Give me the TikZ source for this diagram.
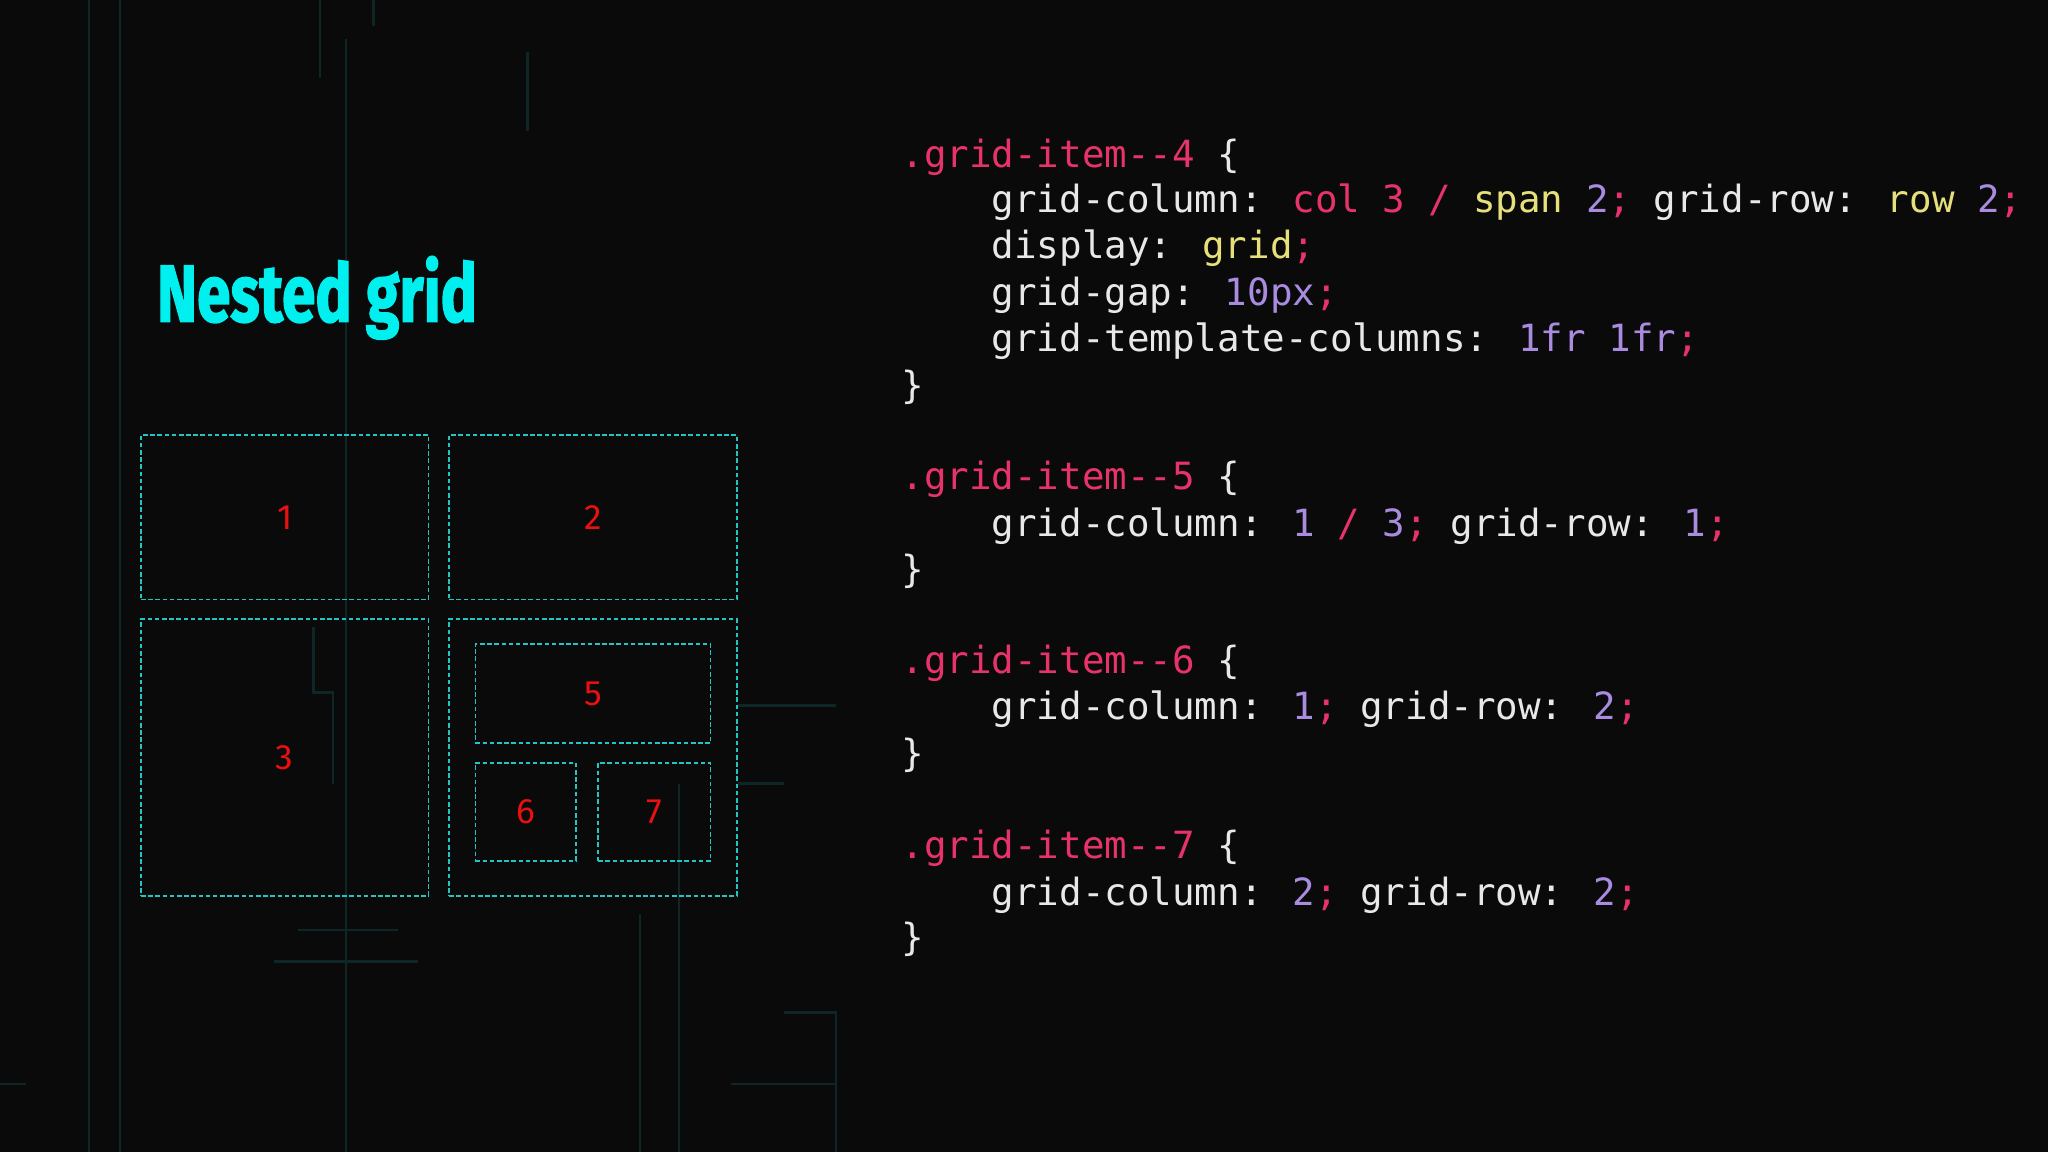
\documentclass[tikz,border=0pt]{standalone}
\usepackage{fontspec}
\usepackage{graphicx}
\setmainfont{Fira Sans}
\newfontfamily\codefont{DejaVu Sans Mono}
\definecolor{pk}{HTML}{E8336A}
\definecolor{wt}{HTML}{E8E8E8}
\definecolor{yl}{HTML}{E6E07A}
\definecolor{pu}{HTML}{A98BE0}
\definecolor{cy}{HTML}{22C4C4}
\definecolor{tc}{HTML}{00F0F0}
\definecolor{rd}{HTML}{E81010}
\definecolor{bgl}{HTML}{0E2626}
\newcommand{\cP}[1]{\textcolor{pk}{#1}}
\newcommand{\cY}[1]{\textcolor{yl}{#1}}
\newcommand{\cU}[1]{\textcolor{pu}{#1}}
\begin{document}
\begin{tikzpicture}[x=1pt,y=-1pt,
  cell/.style={draw=cy,dash pattern=on 3.5pt off 2pt,line width=1.3pt},
  num/.style={text=rd,font=\fontsize{27}{27}\selectfont},
  code/.style={anchor=base west,inner sep=0pt,text=wt,font=\codefont\fontsize{28.7}{30}\selectfont}]
\fill[black!96!white] (0,0) rectangle (1568,882);
\useasboundingbox (0,0) rectangle (1568,882);
% faint background lines
\begin{scope}[bgl,line width=2pt]
\draw (265,30) -- (265,882);
\draw (245,0) -- (245,60);
\draw (92,0) -- (92,882);
\draw (68,0) -- (68,882);
\draw (404,40) -- (404,100);
\draw (286,0) -- (286,20);
\draw (240,480) -- (240,530) -- (255,530) -- (255,600);
\draw (210,736) -- (320,736);
\draw (228,712) -- (305,712);
\draw (490,700) -- (490,882);
\draw (520,600) -- (520,882);
\draw (565,540) -- (640,540);
\draw (565,600) -- (600,600);
\draw (560,830) -- (640,830);
\draw (600,775) -- (640,775) -- (640,882);
\draw (0,830) -- (20,830);
\end{scope}
\node[anchor=west,inner sep=0pt] (title) at (120,228)
  {\resizebox{245pt}{50pt}{\textcolor{tc}{\fontspec{Fira Sans}[FakeBold=2]\bfseries\fontsize{48}{48}\selectfont Nested grid}}};
\node[cell,minimum width=220pt,minimum height=126pt] (b1) at (218,396) {};
\node[cell,minimum width=220pt,minimum height=126pt] (b2) at (454,396) {};
\node[cell,minimum width=220pt,minimum height=212pt] (b3) at (218,580) {};
\node[cell,minimum width=220pt,minimum height=212pt] (b4) at (454,580) {};
\node[cell,minimum width=180pt,minimum height=76pt] (b5) at (454,531) {};
\node[cell,minimum width=77pt,minimum height=75pt] (b6) at (402.5,621.5) {};
\node[cell,minimum width=86pt,minimum height=75pt] (b7) at (501,621.5) {};
\node[num] (n1) at (b1) {1};
\node[num] (n2) at (b2) {2};
\node[num] (n3) at (b3) {3};
\node[num] (n5) at (b5) {5};
\node[num] (n6) at (b6) {6};
\node[num] (n7) at (b7) {7};
% code
\node[code] (c1) at (690,128) {\cP{.grid-item--4} \{};
\node[code] (c2) at (690,163) {\ \ \ \ grid-column: \cP{col 3 /} \cY{span} \cU{2}\cP{;} grid-row: \cY{row} \cU{2}\cP{;}};
\node[code] (c3) at (690,198) {\ \ \ \ display: \cY{grid}\cP{;}};
\node[code] (c4) at (690,234) {\ \ \ \ grid-gap: \cU{10px}\cP{;}};
\node[code] (c5) at (690,269) {\ \ \ \ grid-template-columns: \cU{1fr 1fr}\cP{;}};
\node[code] (c6) at (690,305) {\}};
\node[code] (d1) at (690,375) {\cP{.grid-item--5} \{};
\node[code] (d2) at (690,411) {\ \ \ \ grid-column: \cU{1} \cP{/} \cU{3}\cP{;} grid-row: \cU{1}\cP{;}};
\node[code] (d3) at (690,446) {\}};
\node[code] (e1) at (690,516) {\cP{.grid-item--6} \{};
\node[code] (e2) at (690,551) {\ \ \ \ grid-column: \cU{1}\cP{;} grid-row: \cU{2}\cP{;}};
\node[code] (e3) at (690,587) {\}};
\node[code] (f1) at (690,657) {\cP{.grid-item--7} \{};
\node[code] (f2) at (690,693) {\ \ \ \ grid-column: \cU{2}\cP{;} grid-row: \cU{2}\cP{;}};
\node[code] (f3) at (690,728) {\}};
\end{tikzpicture}
\end{document}
